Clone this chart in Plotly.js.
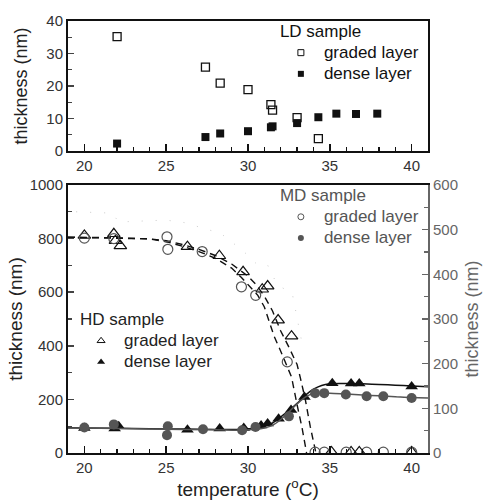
<!DOCTYPE html>
<html>
<head>
<meta charset="utf-8">
<script src="https://cdn.plot.ly/plotly-3.0.1.min.js"></script>
<style>html,body{margin:0;padding:0;background:#fff;}#chart{width:491px;height:500px;}</style>
</head>
<body>
<div id="chart"></div>
<script>
// ---------- LD sample (top panel) ----------
var ldGradedTemp = [22.0, 27.4, 28.3, 30.0, 31.4, 31.5, 33.0, 34.3];
var ldGraded     = [35.2, 25.8, 20.9, 18.9, 14.3, 12.6, 10.3, 3.8];
var ldDenseTemp  = [22.0, 27.4, 28.3, 30.0, 31.4, 31.5, 33.0, 34.3, 35.4, 36.6, 37.9];
var ldDense      = [2.3, 4.3, 5.4, 6.1, 7.3, 7.6, 8.6, 10.4, 11.5, 11.4, 11.5];

// ---------- HD sample (bottom panel, left axis) ----------
var hdGradedTemp = [20.0, 21.8, 21.9, 22.2, 26.3, 28.25, 29.7, 30.87, 31.2, 31.84, 32.66, 35.1, 36.3, 36.8, 40.0];
var hdGraded     = [812, 818, 792, 773, 770, 736, 676, 611, 623, 496, 436, 4, 4, 4, 4];
var hdDenseTemp  = [20.0, 21.85, 22.1, 26.3, 28.27, 29.74, 30.8, 31.2, 31.87, 32.63, 33.45, 35.15, 36.3, 36.8, 40.0];
var hdDense      = [93, 91, 100, 87, 91, 93, 103, 110, 128, 160, 209, 260, 259, 259, 248];

// ---------- MD sample (bottom panel, right axis) ----------
var mdGradedTemp = [20.0, 21.8, 25.05, 25.1, 27.2, 29.6, 30.47, 32.4, 34.1, 34.66, 36.0, 37.25, 38.27, 40.0];
var mdGraded     = [481, 480, 484, 456, 451, 372, 353, 204, 2, 2, 2, 2, 2, 2];
var mdDenseTemp  = [20.0, 21.8, 25.1, 25.05, 27.25, 29.64, 30.46, 32.5, 34.1, 34.66, 35.98, 37.25, 38.27, 40.0];
var mdDense      = [57, 64, 60, 40, 53, 51, 58, 82, 134, 134, 131, 127, 127, 123];

// ---------- fitted guide curves ----------
var hdGradedFitTemp = [19, 22, 24, 25, 26, 27, 28, 29, 30, 30.5, 31, 31.5, 32, 32.5, 33, 33.2, 33.5, 33.8, 34.15];
var hdGradedFit     = [805, 803, 799, 792, 778, 760, 737, 705, 660, 628, 585, 530, 455, 395, 330, 280, 200, 100, 0];
var mdGradedFitTemp = [19, 22, 24, 25, 26, 27, 28, 29, 29.6, 30, 30.6, 31, 31.6, 32, 32.66, 33, 33.3, 33.58];
var mdGradedFit     = [483, 482, 479, 473, 463, 451, 436, 414, 393, 377, 353, 327, 261, 228, 170, 108, 57, 0];
var denseFitTemp    = [19, 20, 22, 25, 28, 29.5, 30.5, 31, 31.5, 32, 32.5, 33, 33.5, 34, 34.5, 35, 36, 37, 38, 39, 40, 41];
var hdDenseFit      = [94, 93, 92, 90, 88, 88, 93, 100, 112, 135, 158, 185, 215, 238, 252, 258, 259, 258, 256, 253, 250, 247];
var mdDenseFit      = [56, 56, 55, 53, 52, 51, 53, 56, 62, 75, 92, 110, 125, 133, 134, 134, 132, 130, 128, 126, 124, 123];

// faint scan-dots above the graded curves
var faintTemp = [19.5, 21.7, 22.1, 25.0, 26.3, 27.2, 28.3, 29.7, 30.6, 31.2, 31.8, 32.7, 33.35];
var faintVal  = [900, 895, 862, 869, 858, 839, 821, 754, 701, 701, 626, 597, 395];

// legend labels
var sampleNames = ['LD sample', 'MD sample', 'HD sample'];
var layerNames  = ['graded layer', 'dense layer'];

var BLACK = '#111', GRAY = '#555', LGRAY = '#666';
var nul = [null];
function lbl(t) { return '<span style="font-size:17px">' + t + '</span>'; }

var traces = [
  // top panel
  {x: ldGradedTemp, y: ldGraded, xaxis: 'x', yaxis: 'y', mode: 'markers', showlegend: false,
   marker: {symbol: 'square-open', size: 8, color: BLACK, line: {width: 1.3}}},
  {x: ldDenseTemp, y: ldDense, xaxis: 'x', yaxis: 'y', mode: 'markers', showlegend: false,
   marker: {symbol: 'square', size: 8, color: BLACK}},
  // bottom: faint dots
  {x: faintTemp, y: faintVal, xaxis: 'x2', yaxis: 'y2', mode: 'lines', showlegend: false,
   line: {color: '#cccccc', width: 1, dash: '1px,13px'}},
  // fits
  {x: hdGradedFitTemp, y: hdGradedFit, xaxis: 'x2', yaxis: 'y2', mode: 'lines', showlegend: false,
   line: {color: BLACK, width: 1.4, dash: '7px,5px'}},
  {x: mdGradedFitTemp, y: mdGradedFit, xaxis: 'x2', yaxis: 'y3', mode: 'lines', showlegend: false,
   line: {color: BLACK, width: 1.4, dash: '7px,5px'}},
  {x: denseFitTemp, y: mdDenseFit, xaxis: 'x2', yaxis: 'y3', mode: 'lines', showlegend: false,
   line: {color: GRAY, width: 1.5, shape: 'spline'}},
  {x: denseFitTemp, y: hdDenseFit, xaxis: 'x2', yaxis: 'y2', mode: 'lines', showlegend: false,
   line: {color: BLACK, width: 1.5, shape: 'spline'}},
  // data
  {x: mdGradedTemp, y: mdGraded, xaxis: 'x2', yaxis: 'y3', mode: 'markers', showlegend: false,
   marker: {symbol: 'circle-open', size: 10, color: GRAY, line: {width: 1.2}}},
  {x: hdGradedTemp, y: hdGraded, xaxis: 'x2', yaxis: 'y2', mode: 'markers', showlegend: false,
   marker: {symbol: 'triangle-up-open', size: 11, color: BLACK, line: {width: 1.2}}},
  {x: mdDenseTemp, y: mdDense, xaxis: 'x2', yaxis: 'y3', mode: 'markers', showlegend: false,
   marker: {symbol: 'circle', size: 10, color: GRAY}},
  {x: hdDenseTemp, y: hdDense, xaxis: 'x2', yaxis: 'y2', mode: 'markers', showlegend: false,
   marker: {symbol: 'triangle-up', size: 11, color: BLACK}},
  // legend-only entries
  {x: nul, y: nul, xaxis: 'x', yaxis: 'y', mode: 'markers', name: lbl(layerNames[0]), legend: 'legend',
   marker: {symbol: 'square-open', size: 6, color: BLACK, line: {width: 1}}},
  {x: nul, y: nul, xaxis: 'x', yaxis: 'y', mode: 'markers', name: lbl(layerNames[1]), legend: 'legend',
   marker: {symbol: 'square', size: 6, color: BLACK}},
  {x: nul, y: nul, xaxis: 'x2', yaxis: 'y3', mode: 'markers', name: lbl(layerNames[0]), legend: 'legend2',
   marker: {symbol: 'circle-open', size: 6, color: GRAY, line: {width: 1}}},
  {x: nul, y: nul, xaxis: 'x2', yaxis: 'y3', mode: 'markers', name: lbl(layerNames[1]), legend: 'legend2',
   marker: {symbol: 'circle', size: 6, color: GRAY}},
  {x: nul, y: nul, xaxis: 'x2', yaxis: 'y2', mode: 'markers', name: lbl(layerNames[0]), legend: 'legend3',
   marker: {symbol: 'triangle-up-open', size: 7, color: BLACK, line: {width: 1}}},
  {x: nul, y: nul, xaxis: 'x2', yaxis: 'y2', mode: 'markers', name: lbl(layerNames[1]), legend: 'legend3',
   marker: {symbol: 'triangle-up', size: 7, color: BLACK}}
];

var FONT = 'Liberation Sans, Arial, sans-serif';
function xAx(extra) {
  return Object.assign({
    range: [19, 41], tick0: 20, dtick: 5, ticks: 'inside', ticklen: 7, tickwidth: 1.5, tickcolor: BLACK,
    minor: {dtick: 1, ticks: 'inside', ticklen: 4, tickwidth: 1.2, tickcolor: BLACK},
    showline: true, linewidth: 2, linecolor: BLACK, mirror: true, showgrid: false, zeroline: false,
    tickfont: {size: 15, color: '#333', family: FONT}
  }, extra);
}
var legendCommon = {bgcolor: 'rgba(0,0,0,0)', borderwidth: 0, itemwidth: 36, xanchor: 'left', yanchor: 'top'};

var layout = {
  width: 491, height: 500,
  margin: {l: 68, r: 63, t: 21, b: 47},
  paper_bgcolor: '#fff', plot_bgcolor: '#fff',
  font: {family: FONT, color: BLACK},
  xaxis: xAx({anchor: 'y', domain: [0, 1]}),
  yaxis: {anchor: 'x', domain: [0.699, 1], range: [0, 40], dtick: 10, ticks: 'inside', ticklen: 6, tickwidth: 1.5,
    minor: {dtick: 5, ticks: 'inside', ticklen: 4, tickwidth: 1.2},
    showline: true, linewidth: 2, linecolor: BLACK, mirror: true, showgrid: false, zeroline: false,
    tickfont: {size: 15, color: '#333'},
    title: {text: 'thickness (nm)', font: {size: 18, color: '#222'}, standoff: 14}},
  xaxis2: xAx({anchor: 'y2', domain: [0, 1],
    title: {text: 'temperature (<sup>o</sup>C)', font: {size: 19, color: '#222'}, standoff: 4}}),
  yaxis2: {anchor: 'x2', domain: [0, 0.6204], range: [0, 1000], dtick: 200, ticks: 'inside', ticklen: 6, tickwidth: 1.5,
    minor: {dtick: 100, ticks: 'inside', ticklen: 4, tickwidth: 1.2},
    showline: true, linewidth: 2, linecolor: BLACK, showgrid: false, zeroline: false,
    tickfont: {size: 15, color: '#333'},
    title: {text: 'thickness (nm)', font: {size: 19, color: '#222'}, standoff: 2}},
  yaxis3: {anchor: 'x2', overlaying: 'y2', side: 'right', range: [0, 600], dtick: 100, ticks: 'inside', ticklen: 6,
    tickwidth: 1.5, tickcolor: LGRAY,
    minor: {dtick: 50, ticks: 'inside', ticklen: 4, tickwidth: 1.2, tickcolor: LGRAY},
    showline: true, linewidth: 2, linecolor: LGRAY, showgrid: false, zeroline: false,
    tickfont: {size: 15, color: LGRAY},
    title: {text: 'thickness (nm)', font: {size: 18, color: LGRAY}, standoff: 8}},
  legend: Object.assign({}, legendCommon, {x: 0.583, y: 1.014,
    title: {text: sampleNames[0], font: {size: 17, color: BLACK, family: FONT}},
    font: {size: 14, color: BLACK, family: FONT}}),
  legend2: Object.assign({}, legendCommon, {x: 0.583, y: 0.634,
    title: {text: sampleNames[1], font: {size: 17, color: GRAY, family: FONT}},
    font: {size: 14, color: GRAY, family: FONT}}),
  legend3: Object.assign({}, legendCommon, {x: 0.028, y: 0.347,
    title: {text: sampleNames[2], font: {size: 17, color: '#222', family: FONT}},
    font: {size: 14, color: '#222', family: FONT}})
};

Plotly.newPlot('chart', traces, layout, {displayModeBar: false, staticPlot: true});
</script>
</body>
</html>
